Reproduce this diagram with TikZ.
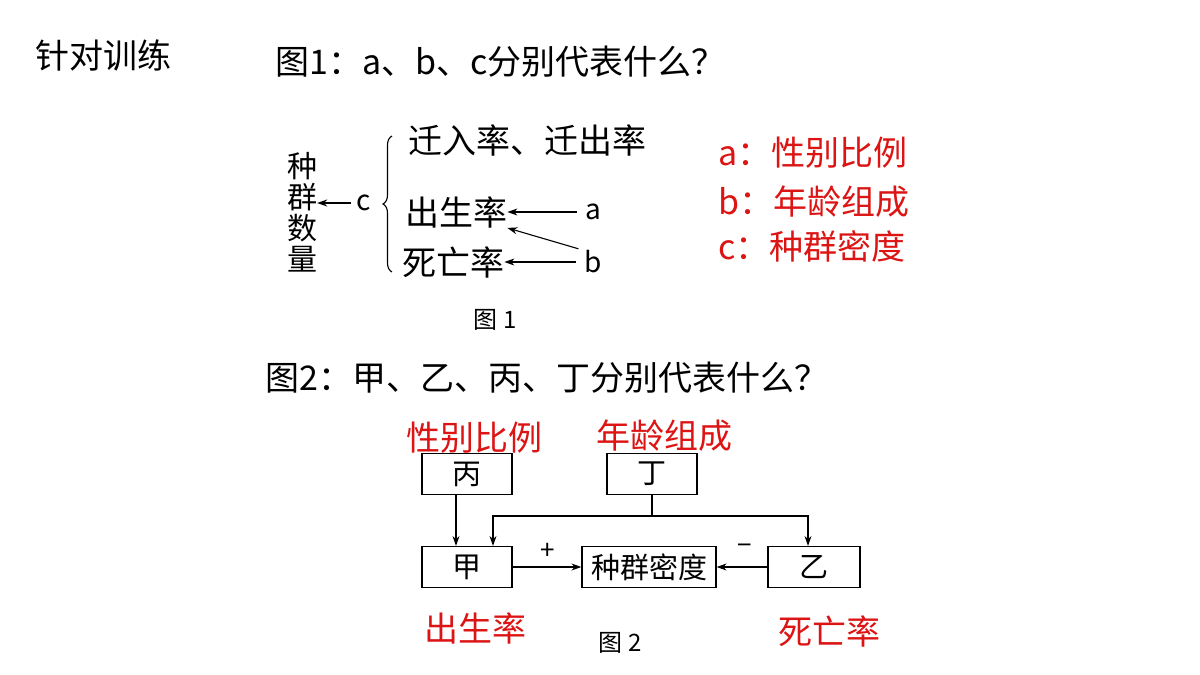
\documentclass[tikz,border=0pt]{standalone}
\usepackage{fontspec}
\setmainfont{Liberation Serif}
\newfontfamily\cjk{Noto Sans CJK SC}
\usetikzlibrary{arrows.meta,decorations.pathreplacing}
\definecolor{myred}{RGB}{220,20,20}
\begin{document}
\begin{tikzpicture}[x=1pt,y=-1pt,
  txt/.style={inner sep=0pt,font=\cjk\fontsize{34}{34}\selectfont},
  fig/.style={inner sep=0pt,font=\cjk\fontsize{34}{34}\selectfont},
  red/.style={inner sep=0pt,text=myred,font=\cjk\fontsize{34}{34}\selectfont},
  box/.style={draw,line width=1.2pt,minimum height=41pt,inner sep=0pt,font=\cjk\fontsize{29}{29}\selectfont},
  arr/.style={line width=1.1pt,-{Stealth[length=10pt,width=7pt]}},
  ln/.style={line width=1.1pt}]
\useasboundingbox (0,0) rectangle (1200,675);
\node[txt,anchor=west] (t0) at (35,55) {针对训练};
\node[txt,anchor=west] (t1) at (275,62) {图1：a、b、c分别代表什么？};
% fig 1
\node[fig,align=center,font=\cjk\fontsize{30}{30}\selectfont] (zq) at (302,212) {种\\[1pt]群\\[1pt]数\\[1pt]量};
\node[fig,font=\cjk\fontsize{28}{28}\selectfont] (c) at (364,203) {c};
\node[fig,anchor=west] (qr) at (408,140) {迁入率、迁出率};
\node[fig,anchor=west] (cs) at (405,212) {出生率};
\node[fig,anchor=west] (sw) at (402,262) {死亡率};
\node[fig,font=\cjk\fontsize{28}{28}\selectfont] (a) at (593,212) {a};
\node[fig,font=\cjk\fontsize{28}{28}\selectfont] (b) at (593,262) {b};
\draw[arr,shorten <=6pt] (c.west) -- (zq.east|-c.west);
\draw[ln,decorate,decoration={brace,amplitude=9pt,mirror}] (392,136) -- (392,272);
\draw[arr,shorten <=8pt] (a.west) -- (cs.east|-a.west);
\draw[arr,shorten <=6pt] (b.north west) -- (cs.south east);
\draw[arr,shorten <=8pt] (b.west) -- (sw.east|-b.west);
\node[fig,font=\cjk\fontsize{24}{24}\selectfont] (f1) at (495,320) {图\ 1};
\node[red,anchor=west] (ra) at (718,153) {a：性别比例};
\node[red,anchor=west] (rb) at (718,202) {b：年龄组成};
\node[red,anchor=west] (rc) at (718,246) {c：种群密度};
% fig 2
\node[txt,anchor=west] (t2) at (265,378) {图2：甲、乙、丙、丁分别代表什么？};
\node[box,minimum width=90pt] (bing) at (467,474) {丙};
\node[box,minimum width=90pt] (ding) at (652,474) {丁};
\node[box,minimum width=90pt] (jia) at (467,567) {甲};
\node[box,minimum width=134pt] (md) at (649,567) {种群密度};
\node[box,minimum width=92pt] (yi) at (814,567) {乙};
\coordinate (j) at (652,516);
\coordinate (l) at (493,516);
\coordinate (r) at (808,516);
\draw[ln] (ding.south) -- (j);
\draw[arr] (j) -- (l) -- (l|-jia.north);
\draw[arr] (j) -- (r) -- (r|-yi.north);
\draw[arr] (bing.south-|456,0) -- (jia.north-|456,0);
\draw[arr] (jia.east) -- (md.west);
\draw[arr] (yi.west) -- (md.east);
\node[fig,font=\cjk\fontsize{26}{26}\selectfont] (plus) at (548,551) {+};
\node[fig,font=\cjk\fontsize{26}{26}\selectfont] (minus) at (745,549) {−};
\node[red] (l1) at (474,438) {性别比例};
\node[red] (l2) at (664,436) {年龄组成};
\node[red] (l3) at (475,628) {出生率};
\node[red] (l4) at (829,631) {死亡率};
\node[fig,font=\cjk\fontsize{24}{24}\selectfont] (f2) at (620,643) {图\ 2};
\end{tikzpicture}
\end{document}
